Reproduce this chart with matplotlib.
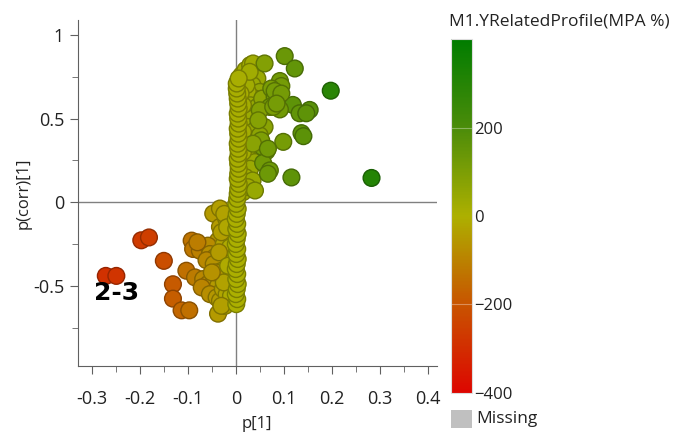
import numpy as np
import matplotlib
matplotlib.use('Agg')
import matplotlib.pyplot as plt
from matplotlib.colors import LinearSegmentedColormap, Normalize
from matplotlib.patches import Rectangle
import matplotlib as mpl

plt.rcParams['font.family'] = ['Open Sans', 'DejaVu Sans']

# orange / red outliers on the left
out_x = [-0.271, -0.249, -0.197, -0.181, -0.150, -0.131, -0.131, -0.113, -0.097]
out_y = [-0.441, -0.441, -0.228, -0.211, -0.351, -0.491, -0.577, -0.647, -0.647]
out_c = [-290, -280, -265, -255, -215, -185, -180, -160, -140]

# lower-left cluster (olive / orange)
low_x = [-0.047, -0.033, -0.037, -0.033, -0.092, -0.089, -0.075, -0.058, -0.054, -0.044,
         -0.103, -0.085, -0.068, -0.058, -0.046, -0.037, -0.071, -0.054, -0.040, -0.033,
         -0.037, -0.027, -0.019, -0.061, -0.046, -0.029, -0.020, -0.015, -0.020, -0.015,
         -0.022, -0.012, -0.025, -0.080, -0.030, -0.024, -0.010, -0.012, -0.028, -0.018,
         -0.035, -0.042, -0.025, -0.050, -0.016, -0.030]
low_y = [-0.068, -0.038, -0.230, -0.148, -0.230, -0.280, -0.290, -0.260, -0.310, -0.330,
         -0.410, -0.450, -0.460, -0.490, -0.480, -0.500, -0.510, -0.550, -0.570, -0.590,
         -0.667, -0.520, -0.550, -0.347, -0.370, -0.410, -0.100, -0.200, -0.300, -0.450,
         -0.620, -0.350, -0.250, -0.240, -0.180, -0.070, -0.560, -0.270, -0.440, -0.150,
         -0.300, -0.420, -0.480, -0.420, -0.380, -0.620]
low_c = [-50, -40, -55, -45, -130, -125, -105, -80, -75, -60,
         -140, -115, -90, -80, -65, -50, -95, -75, -55, -45,
         -50, -35, -25, -85, -65, -40, -25, -20, -25, -20,
         -30, -15, -30, -110, -40, -30, -10, -15, -35, -20,
         -45, -55, -30, -65, -15, -35]

# upper fill right of the stem
up_x = [0.005, 0.012, 0.020, 0.030, 0.040, 0.028, 0.045, 0.035, 0.050, 0.040,
        0.025, 0.030, 0.045, 0.020, 0.035, 0.025, 0.040, 0.020, 0.030, 0.045,
        0.025, 0.040, 0.030, 0.020, 0.035, 0.015, 0.025, 0.015, 0.015, 0.015,
        0.022, 0.010, 0.055, 0.060, 0.050, 0.036, 0.029]
up_y = [0.72, 0.76, 0.79, 0.82, 0.80, 0.77, 0.74, 0.70, 0.66, 0.62,
        0.66, 0.58, 0.57, 0.52, 0.50, 0.45, 0.43, 0.38, 0.34, 0.30,
        0.27, 0.24, 0.20, 0.15, 0.13, 0.06, 0.09, 0.42, 0.58, 0.30,
        0.70, 0.65, 0.62, 0.45, 0.40, 0.83, 0.78]
up_c = [12, 15, 18, 25, 30, 25, 40, 35, 50, 45,
        25, 30, 50, 25, 40, 30, 45, 25, 35, 50,
        28, 45, 35, 25, 40, 20, 28, 20, 20, 20,
        22, 12, 65, 70, 65, 28, 22]

# green points upper right
gr_x = [0.102, 0.123, 0.198, 0.283, 0.116, 0.099, 0.137, 0.141, 0.119, 0.133,
        0.154, 0.147, 0.060, 0.092, 0.095, 0.074, 0.081, 0.092, 0.071, 0.050,
        0.047, 0.064, 0.056, 0.057, 0.071, 0.040, 0.053, 0.036, 0.081, 0.095,
        0.078, 0.085, 0.067, 0.067]
gr_y = [0.874, 0.800, 0.667, 0.145, 0.148, 0.361, 0.413, 0.395, 0.582, 0.532,
        0.552, 0.532, 0.830, 0.725, 0.695, 0.680, 0.630, 0.555, 0.570, 0.550,
        0.490, 0.305, 0.330, 0.235, 0.190, 0.070, 0.370, 0.350, 0.665, 0.650,
        0.570, 0.590, 0.320, 0.170]
gr_c = [135, 150, 285, 300, 160, 110, 160, 165, 160, 150,
        170, 160, 85, 120, 115, 105, 120, 120, 110, 85,
        80, 120, 110, 120, 130, 45, 95, 70, 110, 115,
        105, 110, 120, 130]

# dense stem along p[1] = 0
stem_x = [0.001, 0.003, 0.000, 0.002, 0.004, 0.001, 0.003, 0.000, 0.002, 0.004,
          0.001, 0.003, 0.000, 0.002, 0.004, 0.001, 0.003, 0.000, 0.002, 0.004,
          0.001, 0.003, 0.004, 0.005, 0.006, 0.004, 0.005, 0.006, 0.005, 0.004,
          0.006, 0.005, 0.004, 0.006, 0.005, 0.004, 0.006, 0.005, 0.004, 0.006,
          0.005, 0.004, 0.003, 0.002, 0.002, 0.006]
stem_y = [-0.61, -0.58, -0.55, -0.52, -0.49, -0.46, -0.43, -0.40, -0.37, -0.34,
          -0.31, -0.28, -0.25, -0.22, -0.19, -0.16, -0.13, -0.10, -0.07, -0.04,
          -0.01, 0.02, 0.05, 0.08, 0.11, 0.14, 0.17, 0.20, 0.23, 0.26,
          0.29, 0.32, 0.35, 0.38, 0.41, 0.44, 0.47, 0.50, 0.53, 0.56,
          0.59, 0.62, 0.65, 0.68, 0.71, 0.74]
stem_c = [5, 5, 5, 5, 5, 5, 5, 5, 5, 5,
          5, 5, 5, 5, 5, 5, 5, 5, 5, 8,
          10, 12, 12, 12, 12, 12, 12, 12, 12, 12,
          12, 12, 12, 12, 12, 12, 12, 12, 12, 12,
          12, 12, 12, 12, 12, 12]

cbar_ticks = [-400, -200, 0, 200]

cmap = LinearSegmentedColormap.from_list(
    'ygr', [(0.0, '#dd0600'), (0.25, '#c85400'), (0.5, '#adb000'),
            (0.75, '#4b8c0a'), (1.0, '#007c00')])
norm = Normalize(-400, 400)

fig = plt.figure(figsize=(6.74, 4.32), dpi=100)
ax = fig.add_axes([0.1157, 0.1528, 0.5323, 0.8009])

ax.axhline(0, color='#808080', lw=1, zorder=1)
ax.axvline(0, color='#808080', lw=1, zorder=1)


def draw(xs, ys, cs):
    fc = cmap(norm(np.array(cs)))
    ec = fc.copy()
    ec[:, :3] *= 0.72
    ax.scatter(xs, ys, s=145, c=fc, edgecolors=ec, linewidths=1.0, zorder=3)


draw(out_x, out_y, out_c)
draw(low_x, low_y, low_c)
draw(up_x, up_y, up_c)
draw(gr_x, gr_y, gr_c)
draw(stem_x, stem_y, stem_c)

ax.text(-0.249, -0.545, '2-3', fontsize=18, fontweight='bold', family='DejaVu Sans',
        ha='center', va='center', zorder=5)

ax.set_xlim(-0.329, 0.419)
ax.set_ylim(-0.98, 1.09)
ax.set_xticks([-0.3, -0.2, -0.1, 0, 0.1, 0.2, 0.3, 0.4])
ax.set_xticklabels(['-0.3', '-0.2', '-0.1', '0', '0.1', '0.2', '0.3', '0.4'])
ax.set_xticks(np.arange(-0.25, 0.45, 0.1), minor=True)
ax.set_yticks([-0.5, 0, 0.5, 1])
ax.set_yticklabels(['-0.5', '0', '0.5', '1'])
ax.set_yticks([-0.75, -0.25, 0.25, 0.75], minor=True)
for s in ['top', 'right']:
    ax.spines[s].set_visible(False)
for s in ['left', 'bottom']:
    ax.spines[s].set_color('#606060')
ax.tick_params(which='major', length=6, color='#606060', labelsize=13, labelcolor='#222222', pad=4)
ax.tick_params(axis='x', which='major', pad=11)
ax.tick_params(which='minor', length=4, color='#606060')
ax.set_xlabel('p[1]', fontsize=12, color='#222222', labelpad=6)
ax.set_ylabel('p(corr)[1]', fontsize=12, color='#222222', labelpad=1)

# colour bar
cax = fig.add_axes([0.669, 0.0903, 0.031, 0.8194])
cb = mpl.colorbar.ColorbarBase(cax, cmap=cmap, norm=norm, ticks=cbar_ticks)
cb.outline.set_edgecolor('#dddddd')
cb.outline.set_linewidth(0.8)
cax.tick_params(length=0, labelsize=12, labelcolor='#222222', pad=2)
for t in [-200, 200]:
    cax.axhline(t, color='white', lw=0.8, alpha=0.35)
fig.text(0.666, 0.951, 'M1.YRelatedProfile(MPA %)', fontsize=12.5, color='#222222',
         ha='left', va='center')
fig.patches.append(Rectangle((0.669, 0.0093), 0.031, 0.0417, transform=fig.transFigure,
                             facecolor='#c0c0c0', edgecolor='none'))
fig.text(0.706, 0.030, 'Missing', fontsize=12.5, color='#222222', ha='left', va='center')

fig.savefig('out.png', dpi=100)
